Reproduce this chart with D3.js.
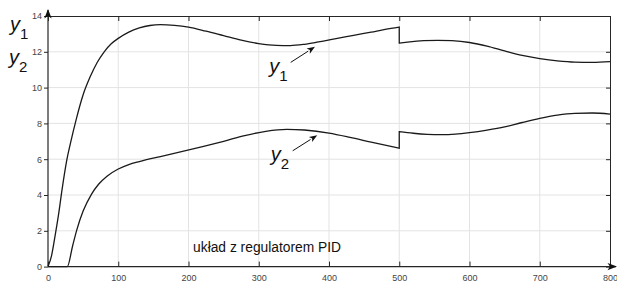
<!DOCTYPE html>
<html>
<head>
<meta charset="utf-8">
<script src="https://cdn.jsdelivr.net/npm/d3@7"></script>
<style>
body { margin:0; background:#fff; }
svg { display:block; font-family:"Liberation Sans", Arial, sans-serif; }
.grid line { stroke:#e3e3e3; stroke-width:1; }
.axis path, .axis line { stroke:#262626; }
.axis text { fill:#444; font-size:9px; }
</style>
</head>
<body>
<script>
var xTicks = [0,100,200,300,400,500,600,700,800];
var yTicks = [0,2,4,6,8,10,12,14];

// y1, split at the step in t = 500
var y1a = [[0,0],[5,0.6],[10,1.7],[15,2.9],[20,4.3],[27,6.0],[32,6.9],[40,8.2],[50,9.6],[60,10.6],[70,11.4],[80,12.0],[90,12.45],[100,12.75],[115,13.1],[130,13.33],[145,13.47],[160,13.52],[180,13.48],[200,13.38],[225,13.15],[250,12.9],[275,12.65],[300,12.46],[325,12.36],[345,12.35],[365,12.42],[385,12.55],[410,12.73],[435,12.92],[460,13.1],[480,13.25],[500,13.38]];
var y1b = [[500,12.49],[515,12.56],[535,12.62],[555,12.64],[575,12.62],[600,12.52],[625,12.32],[650,12.05],[675,11.8],[700,11.62],[725,11.49],[750,11.42],[775,11.41],[800,11.45]];

var y2a = [[0,0],[27.5,0],[35,1.15],[41,2.05],[50,3.1],[62,4.05],[72,4.6],[84,5.05],[100,5.45],[115,5.7],[130,5.87],[160,6.15],[190,6.42],[220,6.7],[250,7.0],[280,7.32],[310,7.56],[340,7.67],[365,7.63],[400,7.46],[430,7.22],[460,6.95],[500,6.61]];
var y2b = [[500,7.54],[520,7.45],[540,7.39],[560,7.37],[580,7.4],[600,7.48],[625,7.62],[650,7.8],[675,8.05],[700,8.28],[725,8.46],[750,8.56],[775,8.58],[800,8.52]];

var width = 617, height = 283;
var svg = d3.select("body").append("svg").attr("width", width).attr("height", height);

var x = d3.scaleLinear().domain([0,800]).range([48,610]);
var y = d3.scaleLinear().domain([0,14]).range([266.6,16]);

// grid
var grid = svg.append("g").attr("class","grid");
grid.selectAll(".gv").data(xTicks.slice(1,-1)).enter().append("line")
    .attr("x1",function(d){return x(d);}).attr("x2",function(d){return x(d);})
    .attr("y1",y(0)).attr("y2",y(14));
grid.selectAll(".gh").data(yTicks.slice(1,-1)).enter().append("line")
    .attr("x1",x(0)).attr("x2",x(800))
    .attr("y1",function(d){return y(d);}).attr("y2",function(d){return y(d);});

// axes
svg.append("g").attr("class","axis").attr("transform","translate(0,"+y(0)+")")
    .call(d3.axisBottom(x).tickValues(xTicks).tickSizeInner(-5).tickSizeOuter(0).tickPadding(8))
    .call(function(g){g.select(".domain").remove();});
svg.append("g").attr("class","axis").attr("transform","translate(0,"+y(14)+")")
    .call(d3.axisTop(x).tickValues(xTicks).tickSizeInner(-5).tickSizeOuter(0).tickFormat(""));
svg.append("g").attr("class","axis").attr("transform","translate("+x(0)+",0)")
    .call(d3.axisLeft(y).tickValues(yTicks).tickSizeInner(4).tickSizeOuter(0).tickPadding(2))
    .call(function(g){g.select(".domain").remove();});
svg.append("g").attr("class","axis").attr("transform","translate("+x(800)+",0)")
    .call(d3.axisRight(y).tickValues(yTicks).tickSizeInner(-4).tickSizeOuter(0).tickFormat(""));

// main axes with arrows
svg.append("line").attr("x1",x(0)).attr("x2",x(800)+6).attr("y1",y(0)).attr("y2",y(0)).attr("stroke","#262626").attr("stroke-width",1.2);
svg.append("line").attr("x1",x(0)).attr("x2",x(0)).attr("y1",y(0)).attr("y2",y(14)-6).attr("stroke","#262626").attr("stroke-width",1.2);
var ux = x(800)+7, uy = y(0);
svg.append("path").attr("d","M"+ux+","+uy+"L"+(ux-9.5)+","+(uy-3.7)+"L"+(ux-7)+","+uy+"L"+(ux-9.5)+","+(uy+3.7)+"Z").attr("fill","#111");
var vx = x(0), vy = y(14)-7;
svg.append("path").attr("d","M"+vx+","+vy+"L"+(vx-3.7)+","+(vy+9.5)+"L"+vx+","+(vy+7)+"L"+(vx+3.7)+","+(vy+9.5)+"Z").attr("fill","#111");

// curves
var line = d3.line().x(function(d){return x(d[0]);}).y(function(d){return y(d[1]);}).curve(d3.curveMonotoneX);
function series(a, b) {
    return line(a) + line(b).replace(/^M/, "L");
}
svg.append("path").attr("d", series(y1a, y1b)).attr("fill","none").attr("stroke","#1a1a1a").attr("stroke-width",1.3);
svg.append("path").attr("d", series(y2a, y2b)).attr("fill","none").attr("stroke","#1a1a1a").attr("stroke-width",1.3);

// annotation arrows
function arrow(t0, v0, t1, v1) {
    var x0 = x(t0), y0 = y(v0), x1 = x(t1), y1 = y(v1);
    var a = Math.atan2(y1 - y0, x1 - x0), L = 8, W = 3;
    var bx = x1 - L*Math.cos(a), by = y1 - L*Math.sin(a);
    svg.append("line").attr("x1",x0).attr("y1",y0).attr("x2",bx).attr("y2",by).attr("stroke","#111").attr("stroke-width",1);
    svg.append("path").attr("d","M"+x1+","+y1+"L"+(bx - W*Math.sin(a))+","+(by + W*Math.cos(a))+"L"+(x1 - 6*Math.cos(a))+","+(y1 - 6*Math.sin(a))+"L"+(bx + W*Math.sin(a))+","+(by - W*Math.cos(a))+"Z").attr("fill","#111");
}
arrow(345.5, 11.41, 380, 12.28);
arrow(348.3, 6.47, 383.3, 7.34);

function yLabel(px, py, sub) {
    var t = svg.append("text").attr("x",px).attr("y",py).attr("fill","#111").style("font-size","20px");
    t.append("tspan").style("font-style","italic").text("y");
    t.append("tspan").attr("dy",8).style("font-size","15px").text(sub);
}
yLabel(x(315), y(10.8), "1");
yLabel(x(317), y(5.9), "2");
yLabel(10, 31, "1");
yLabel(9, 64, "2");

svg.append("text").attr("x",x(206.5)).attr("y",y(0.83)).attr("fill","#111").style("font-size","13.8px").text("układ z regulatorem PID");
</script>
</body>
</html>
